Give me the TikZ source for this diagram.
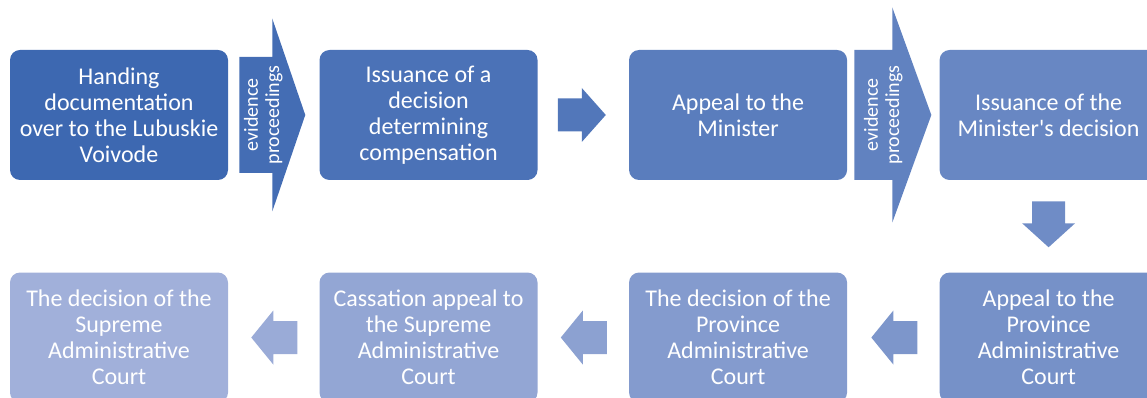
\documentclass[tikz,border=0pt]{standalone}
\usepackage{fontspec}
\setmainfont{Carlito}
\usetikzlibrary{positioning,calc}

\definecolor{deep}{RGB}{61,104,177}
\definecolor{pale}{RGB}{161,176,218}

\tikzset{
  stage/.style={rectangle, rounded corners=7.5pt, fill=#1, text=white, align=center,
    minimum width=163.5pt, minimum height=97.5pt, inner sep=0pt,
    font=\fontsize{18}{19.5}\selectfont},
  evid/.style={text=white, align=center, rotate=90, inner sep=0pt,
    font=\fontsize{15}{16}\selectfont},
}

\begin{document}
\begin{tikzpicture}[x=0.75pt,y=-0.75pt]
\useasboundingbox (0,0) rectangle (1147,398);
\clip (0,0) rectangle (1147,398);

% top row:
\node[stage=deep] (hand) at (119,115) {Handing\\documentation\\over to the Lubuskie\\Voivode};
\node[stage=pale!14!deep, right=68.25pt of hand] (issue) {Issuance of a\\decision\\determining\\compensation};
\node[stage=pale!29!deep, right=68.25pt of issue] (appeal) {Appeal to the\\Minister};
\node[stage=pale!43!deep, right=69pt of appeal] (minister) {Issuance of the\\Minister\textquotesingle s decision};

% bottom row:
\node[stage=pale!57!deep, below=69pt of minister] (province) {Appeal to the\\Province\\Administrative\\Court};
\node[stage=pale!71!deep, left=69pt of province] (pcourt) {The decision of the\\Province\\Administrative\\Court};
\node[stage=pale!86!deep, left=68.25pt of pcourt] (cassation) {Cassation appeal to\\the Supreme\\Administrative\\Court};
\node[stage=pale, left=68.25pt of cassation] (supreme) {The decision of the\\Supreme\\Administrative\\Court};

% evidence arrows:
\fill[pale!7!deep] ($(hand.east)+(11,-58)$) -- ++(33,0) -- ++(0,-38.5) -- ($(hand.east)+(77,0)$)
  -- ($(hand.east)+(44,96.5)$) -- ++(0,-38.5) -- ++(-33,0) -- cycle;
\node[evid] (ev1) at ($(hand.east)+(35,0)$) {evidence\\proceedings};

\fill[pale!36!deep] ($(appeal.east)+(7,-65)$) -- ++(38,0) -- ++(0,-42.5) -- ($(appeal.east)+(84,0)$)
  -- ($(appeal.east)+(45,107.5)$) -- ++(0,-42.5) -- ++(-38,0) -- cycle;
\node[evid] (ev2) at ($(appeal.east)+(36,0)$) {evidence\\proceedings};

% small arrows:
\fill[pale!21!deep] ($(issue.east)+(20,-16.5)$) -- ++(24,0) -- ++(0,-10.5) -- ($(issue.east)+(68,0)$)
  -- ($(issue.east)+(44,27)$) -- ++(0,-10.5) -- ++(-24,0) -- cycle;

\fill[pale!50!deep] ($(minister.south)+(-16.5,21)$) -- ++(0,22) -- ++(-10,0) -- ($(minister.south)+(0,67)$)
  -- ($(minister.south)+(26.5,43)$) -- ++(-10,0) -- ++(0,-22) -- cycle;

\foreach \src/\shade in {province/64, pcourt/79, cassation/93}
  \fill[pale!\shade!deep] ($(\src.west)+(-22,-16.5)$) -- ++(-24,0) -- ++(0,-10.5) -- ($(\src.west)+(-68,0)$)
    -- ($(\src.west)+(-46,27)$) -- ++(0,-10.5) -- ++(24,0) -- cycle;

\end{tikzpicture}
\end{document}
